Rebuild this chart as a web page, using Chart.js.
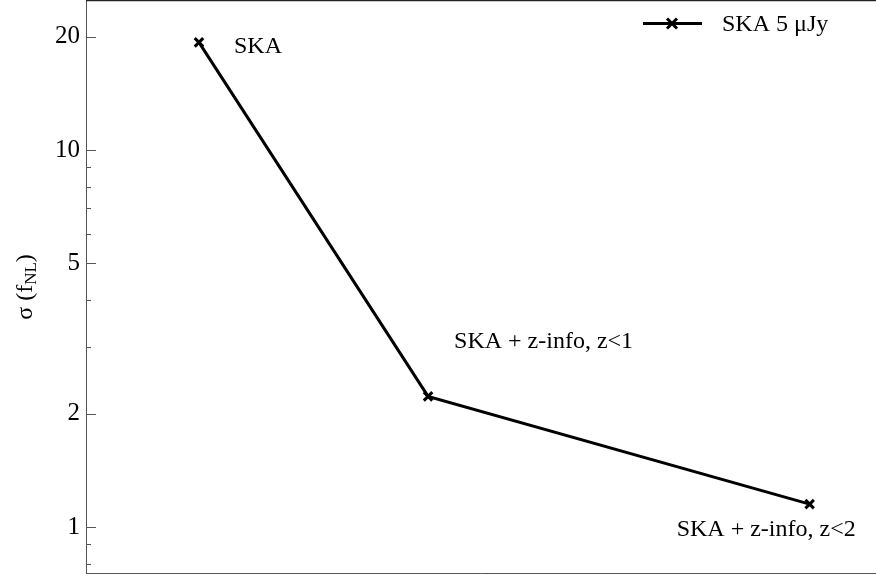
<!DOCTYPE html>
<html>
<head>
<meta charset="utf-8">
<script src="https://cdn.jsdelivr.net/npm/chart.js@4.4.1/dist/chart.umd.min.js"></script>
<style>
html,body{margin:0;padding:0;background:#fff;}
#wrap{width:876px;height:579px;position:relative;}
</style>
</head>
<body>
<div id="wrap"><canvas id="c" width="876" height="579"></canvas></div>
<script>
// ---- data ----
const categories = ['SKA', 'SKA + z-info, z<1', 'SKA + z-info, z<2'];
const xPositions = [0.143, 0.433, 0.916];
const sigmaFNL = [19.3, 2.22, 1.15];
const majorTicks = [1, 2, 5, 10, 20];
const minorTicks = [0.8, 0.9, 3, 4, 6, 7, 8, 9];
const seriesName = 'SKA 5 \u03bcJy';
const yRange = [0.755, 25];

// label offsets (style only), relative to each point
const labelOffsets = [[35, 11], [26, -48], [-133, 32]];

const FONT = '"Liberation Serif", "Times New Roman", serif';

const overlay = {
  id: 'overlay',
  afterDraw(chart) {
    const ctx = chart.ctx;
    const ca = chart.chartArea;
    const ys = chart.scales.y;
    ctx.save();
    // top frame
    ctx.strokeStyle = '#222';
    ctx.lineWidth = 1.2;
    ctx.beginPath();
    ctx.moveTo(ca.left, 0.6);
    ctx.lineTo(chart.width, 0.6);
    ctx.stroke();
    // inward ticks
    ctx.strokeStyle = '#555';
    ctx.lineWidth = 1;
    const drawTick = (v, len) => {
      const y = Math.round(ys.getPixelForValue(v)) + 0.5;
      ctx.beginPath();
      ctx.moveTo(ca.left, y);
      ctx.lineTo(ca.left + len, y);
      ctx.stroke();
    };
    majorTicks.forEach(v => drawTick(v, 10));
    minorTicks.forEach(v => drawTick(v, 5));
    // point annotations
    const meta = chart.getDatasetMeta(0);
    ctx.fillStyle = '#000';
    ctx.font = '24px ' + FONT;
    ctx.textAlign = 'left';
    ctx.textBaseline = 'alphabetic';
    meta.data.forEach((pt, i) => {
      ctx.fillText(categories[i], pt.x + labelOffsets[i][0], pt.y + labelOffsets[i][1]);
    });
    // legend
    const ly = 23.5;
    ctx.strokeStyle = '#000';
    ctx.lineWidth = 3;
    ctx.beginPath();
    ctx.moveTo(643, ly);
    ctx.lineTo(702, ly);
    ctx.stroke();
    const cx = 672, r = 5;
    ctx.beginPath();
    ctx.moveTo(cx - r, ly - r); ctx.lineTo(cx + r, ly + r);
    ctx.moveTo(cx - r, ly + r); ctx.lineTo(cx + r, ly - r);
    ctx.stroke();
    ctx.fillStyle = '#000';
    ctx.textBaseline = 'middle';
    ctx.fillText(seriesName, 722, ly + 1);
    // y-axis title with subscript
    ctx.translate(32, 287);
    ctx.rotate(-Math.PI / 2);
    ctx.textBaseline = 'alphabetic';
    const big = '24px ' + FONT, small = '17px ' + FONT;
    ctx.font = big; const w1 = ctx.measureText('\u03c3 (f').width;
    ctx.font = small; const w2 = ctx.measureText('NL').width;
    ctx.font = big; const w3 = ctx.measureText(')').width;
    let x0 = -(w1 + w2 + w3) / 2;
    ctx.font = big; ctx.fillText('\u03c3 (f', x0, 0);
    ctx.font = small; ctx.fillText('NL', x0 + w1, 4);
    ctx.font = big; ctx.fillText(')', x0 + w1 + w2, 0);
    ctx.restore();
  }
};

new Chart(document.getElementById('c'), {
  type: 'line',
  data: {
    datasets: [{
      label: seriesName,
      data: xPositions.map((x, i) => ({ x: x, y: sigmaFNL[i] })),
      borderColor: '#000',
      backgroundColor: '#000',
      borderWidth: 3,
      pointStyle: 'crossRot',
      pointRadius: 6,
      pointBorderWidth: 3,
      pointBorderColor: '#000',
      tension: 0,
      fill: false
    }]
  },
  options: {
    responsive: false,
    animation: false,
    layout: { autoPadding: false, padding: { top: 0, right: 0, bottom: 0, left: 0 } },
    plugins: { legend: { display: false }, tooltip: { enabled: false } },
    scales: {
      x: {
        type: 'linear', min: 0, max: 1,
        ticks: { display: false },
        grid: { drawOnChartArea: false, drawTicks: false },
        border: { display: true, color: '#555', width: 1 },
        afterFit(s) { s.height = 6; s.paddingLeft = 0; s.paddingRight = 0; s.paddingTop = 0; s.paddingBottom = 0; }
      },
      y: {
        type: 'logarithmic', min: yRange[0], max: yRange[1],
        afterBuildTicks(s) {
          s.ticks = majorTicks.map(v => ({ value: v }));
        },
        ticks: {
          autoSkip: false,
          padding: 6,
          color: '#000',
          font: { family: FONT, size: 25 },
          callback: (v) => majorTicks.includes(v) ? String(v) : ''
        },
        grid: { drawOnChartArea: false, drawTicks: false },
        border: { display: true, color: '#555', width: 1 },
        afterFit(s) { s.width = 86; s.paddingTop = 0; s.paddingBottom = 0; s.paddingLeft = 0; s.paddingRight = 0; }
      }
    }
  },
  plugins: [overlay]
});
</script>
</body>
</html>
